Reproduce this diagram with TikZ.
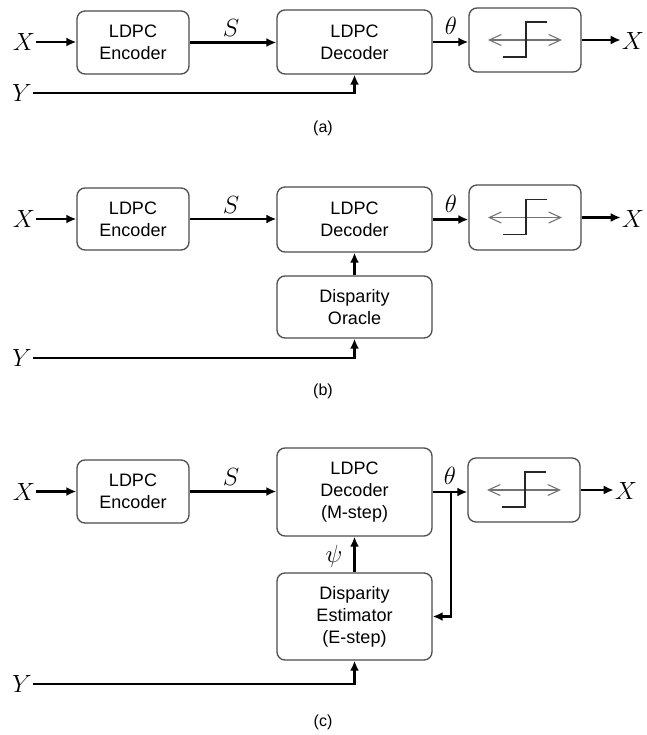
\documentclass[tikz,border=0pt]{standalone}
\usepackage{fontspec}
\setmainfont{Liberation Sans}
\usetikzlibrary{arrows.meta}

\tikzset{
  blk/.style={draw=black!70, line width=1.3pt, rounded corners=8pt,
    align=center, inner sep=0pt, font=\fontsize{18}{22}\selectfont},
  wire/.style={line width=2.5pt, -{Latex[length=10pt,width=9pt]}},
  sym/.style={inner sep=1pt, font=\fontsize{27}{30}\selectfont},
  smallsym/.style={inner sep=1pt, font=\fontsize{24}{28}\selectfont},
  panellabel/.style={font=\fontsize{16}{19}\selectfont},
  dblarrow/.style={draw=black!55, line width=1.1pt,
    {Straight Barb[length=12pt,width=11pt]}-{Straight Barb[length=12pt,width=11pt]}},
  stepline/.style={draw=black!85, line width=1.6pt}
}

% hard limiter symbol drawn inside a block
\newcommand{\limiter}[1]{%
  \draw[dblarrow] ([xshift=-37pt]#1.center) -- ([xshift=37pt]#1.center);
  \draw[stepline] ([shift={(-22,17)}]#1.center) -- ++(23,0) -- ++(0,-35) -- ++(21,0);
}

\begin{document}
\begin{tikzpicture}[x=1pt,y=-1pt]
\useasboundingbox (0,0) rectangle (646,735);

% ---------------- (a) ----------------
\node[sym] (xa) at (24,42) {$X$};
\node[blk, minimum width=112pt, minimum height=63pt] (enca) at (133,42.5) {LDPC\\Encoder};
\node[blk, minimum width=155pt, minimum height=64pt] (deca) at (354.5,42) {LDPC\\Decoder};
\node[blk, minimum width=112pt, minimum height=64pt] (qa) at (525,40) {};
\node[sym] (xoa) at (633,41) {$X$};
\node[sym] (ya) at (22,93) {$Y$};
\node[sym] (sa) at (231,28) {$S$};
\node[sym] (ta) at (451,26) {$\theta$};
\node[panellabel] (la) at (323,128) {(a)};

\draw[wire] (xa.east) -- (xa.east -| enca.west);
\draw[wire] (enca.east) -- (enca.east -| deca.west);
\draw[wire] (deca.east) -- (deca.east -| qa.west);
\draw[wire] (qa.east) -- (qa.east -| xoa.west);
\draw[wire] (ya.east) -| (deca.south);
\limiter{qa}

% ---------------- (b) ----------------
\node[sym] (xb) at (24,219) {$X$};
\node[blk, minimum width=112pt, minimum height=62pt] (encb) at (133,219) {LDPC\\Encoder};
\node[blk, minimum width=155pt, minimum height=65pt] (decb) at (354.5,219.5) {LDPC\\Decoder};
\node[blk, minimum width=112pt, minimum height=65pt] (qb) at (525,217.5) {};
\node[blk, minimum width=155pt, minimum height=62pt] (orc) at (354.5,307) {Disparity\\Oracle};
\node[sym] (xob) at (633,219) {$X$};
\node[sym] (yb) at (22,358) {$Y$};
\node[sym] (sb) at (231,205) {$S$};
\node[sym] (tb) at (451,204) {$\theta$};
\node[panellabel] (lb) at (323,391) {(b)};

\draw[wire] (xb.east) -- (xb.east -| encb.west);
\draw[wire] (encb.east) -- (encb.east -| decb.west);
\draw[wire] (decb.east) -- (decb.east -| qb.west);
\draw[wire] (qb.east) -- (qb.east -| xob.west);
\draw[wire] (orc.north) -- (decb.south);
\draw[wire] (yb.east) -| (orc.south);
\limiter{qb}

% ---------------- (c) ----------------
\node[sym] (xc) at (24,491.5) {$X$};
\node[blk, minimum width=112pt, minimum height=63pt] (encc) at (133,491.5) {LDPC\\Encoder};
\node[blk, minimum width=155pt, minimum height=88pt] (decc) at (354.5,492) {LDPC\\Decoder\\(M-step)};
\node[blk, minimum width=112pt, minimum height=64pt] (qc) at (524,490) {};
\node[blk, minimum width=155pt, minimum height=87pt] (est) at (354.5,616.5) {Disparity\\Estimator\\(E-step)};
\node[sym] (xoc) at (626,491) {$X$};
\node[sym] (yc) at (22,684) {$Y$};
\node[sym] (sc) at (231,477) {$S$};
\node[sym] (tc) at (450,476) {$\theta$};
\node[smallsym] (pc) at (334,556) {$\psi$};
\node[panellabel] (lc) at (323,722) {(c)};
\coordinate (br) at (451,492);

\draw[wire] (xc.east) -- (xc.east -| encc.west);
\draw[wire] (encc.east) -- (encc.east -| decc.west);
\draw[wire] (decc.east) -- (decc.east -| qc.west);
\draw[wire] (qc.east) -- (qc.east -| xoc.west);
\draw[wire] (br) |- (est.east);
\draw[wire] (est.north) -- (decc.south);
\draw[wire] (yc.east) -| (est.south);
\limiter{qc}

\end{tikzpicture}
\end{document}
